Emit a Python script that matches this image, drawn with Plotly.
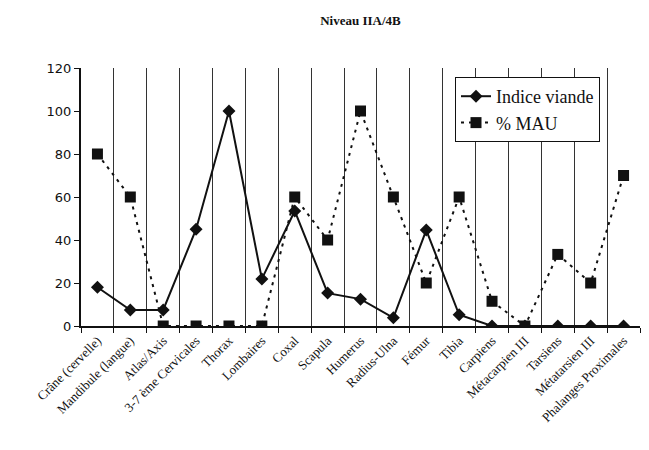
import plotly.graph_objects as go

categories = ["Crâne (cervelle)", "Mandibule (langue)", "Atlas/Axis", "3-7 ème Cervicales",
              "Thorax", "Lombaires", "Coxal", "Scapula", "Humerus", "Radius-Ulna", "Fémur",
              "Tibia", "Carpiens", "Métacarpien III", "Tarsiens", "Métatarsien III",
              "Phalanges Proximales"]
indice_viande = [18, 7.4, 7.5, 45, 100, 21.9, 53.5, 15.3, 12.5, 3.8, 44.6, 5.2, 0, 0, 0, 0, 0]
mau = [80, 60, 0, 0, 0, 0, 60, 40, 100, 60, 20, 60, 11.5, 0, 33.3, 20, 70]
y_ticks = [0, 20, 40, 60, 80, 100, 120]

serif = "Liberation Serif"

fig = go.Figure()
fig.add_trace(go.Scatter(
    x=categories, y=indice_viande, name="Indice viande", mode="lines+markers",
    line=dict(color="#111", width=2),
    marker=dict(symbol="diamond", size=10, color="#111"),
))
fig.add_trace(go.Scatter(
    x=categories, y=mau, name="% MAU", mode="lines+markers",
    line=dict(color="#111", width=2, dash="3px,5px"),
    marker=dict(symbol="square", size=11, color="#111"),
))

W, H = 641, 442
fig.update_layout(
    width=W, height=H,
    paper_bgcolor="white", plot_bgcolor="white",
    margin=dict(l=73, r=9, t=60, b=124),
    title=dict(text="<b>Niveau IIA/4B</b>", x=(73 + 632) / 2 / W, xanchor="center",
               y=1 - 12 / H, yanchor="middle",
               font=dict(family=serif, size=13, color="#111")),
    showlegend=True,
    legend=dict(x=(455 - 81) / 559, y=(325.7 - 77) / 257.7, xanchor="left", yanchor="top",
                bgcolor="white", bordercolor="#111", borderwidth=1,
                font=dict(family="Liberation Serif, serif", size=18, color="#111"),
                tracegroupgap=0),
)
fig.update_xaxes(
    type="category", tickson="boundaries", ticks="outside", ticklen=5, tickcolor="#111",
    showgrid=True, gridcolor="#333", gridwidth=1,
    showline=True, linecolor="#111", linewidth=2,
    tickangle=-45, tickfont=dict(family=serif, size=13, color="#111"),
    range=[-0.5, 16.5],
)
fig.update_yaxes(
    range=[0, 120], tickvals=y_ticks, ticks="outside", ticklen=5, tickcolor="#111",
    showgrid=False, zeroline=False,
    showline=True, linecolor="#111", linewidth=2,
    tickfont=dict(family="DejaVu Sans", size=13, color="#111"),
)

fig.write_html("out.html")
